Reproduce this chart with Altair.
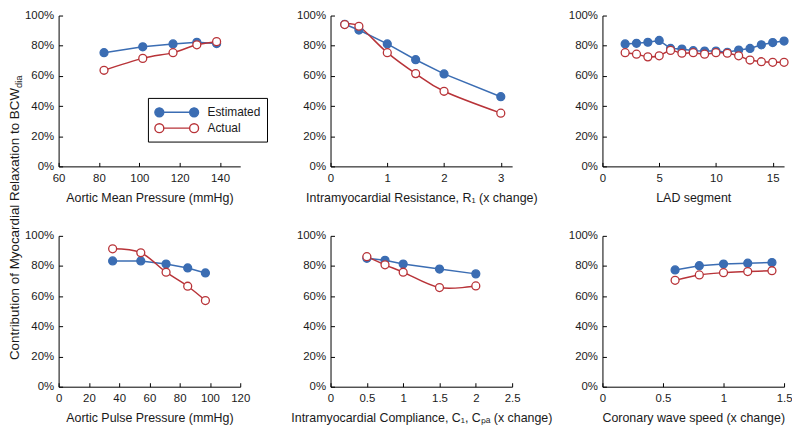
import altair as alt
import pandas as pd

BLUE = "#3b6db3"
RED = "#b83338"
FONT = "Liberation Sans"
TXT = "#1a1a1a"

SERIES = ["Estimated", "Actual"]

# Aortic Mean Pressure (mmHg)
amp_x = [82.5, 101.7, 116.7, 128.5, 138.3]
amp_est = [75.4, 79.3, 81.2, 82.3, 81.4]
amp_act = [63.7, 71.6, 75.4, 80.6, 82.7]

# Intramyocardial Resistance, R1 (x change)
r1_x = [0.25, 0.5, 1.0, 1.5, 2.0, 3.0]
r1_est = [94.2, 90.4, 81.2, 70.7, 61.3, 46.2]
r1_act = [94.0, 92.9, 75.4, 61.5, 49.8, 35.3]

# LAD segment
lad_x = [2, 3, 4, 5, 6, 7, 8, 9, 10, 11, 12, 13, 14, 15, 16]
lad_est = [81.2, 81.6, 82.3, 83.5, 78.2, 77.8, 76.7, 76.5, 76.5, 75.6, 77.1, 78.2, 80.6, 82.1, 83.1]
lad_act = [75.4, 74.4, 72.6, 73.3, 76.9, 75.0, 75.4, 74.4, 75.4, 75.0, 73.3, 70.5, 69.4, 69.0, 69.0]

# Aortic Pulse Pressure (mmHg)
app_x = [35.7, 54.3, 71.0, 85.3, 97.0]
app_est = [83.4, 83.4, 81.3, 78.7, 75.4]
app_act = [91.4, 88.8, 75.9, 66.6, 57.1]

# Intramyocardial Compliance (x change)
c1_x = [0.5, 0.75, 1.0, 1.5, 2.0]
c1_est = [85.1, 83.8, 81.3, 78.0, 74.8]
c1_act = [86.2, 80.8, 75.9, 65.7, 66.8]

# Coronary wave speed (x change)
ws_x = [0.6, 0.8, 1.0, 1.2, 1.4]
ws_est = [77.4, 80.2, 81.3, 81.9, 82.3]
ws_act = [70.5, 74.1, 75.6, 76.3, 76.9]

y_ticks = [0, 0.2, 0.4, 0.6, 0.8, 1.0]

W, H = 183, 152
TK = 4  # inward tick length

stroke_scale = alt.Scale(domain=SERIES, range=[BLUE, RED])
fill_scale = alt.Scale(domain=SERIES, range=[BLUE, "white"])

SYMBOL = ("M-1,0 A0.6,0.6 0 1,1 0.2,0 A0.6,0.6 0 1,1 -1,0 Z "
          "M0.2,0 L3.67,0 "
          "M3.67,0 A0.6,0.6 0 1,1 4.87,0 A0.6,0.6 0 1,1 3.67,0 Z")

LEGEND = alt.Legend(
    title=None, orient="none", legendX=90, legendY=83,
    symbolType=SYMBOL, symbolSize=225, symbolStrokeWidth=1.4,
    labelFontSize=12, labelFont=FONT, labelColor=TXT, labelOffset=37,
    strokeColor="black", fillColor="white", padding=6, rowPadding=0,
    labelLimit=200,
)


def axis_common(**kw):
    return dict(grid=True, gridColor="black", gridOpacity=1,
                gridWidth=1, ticks=False, domainColor="black", domainWidth=1,
                labelFont=FONT, titleFont=FONT, labelColor=TXT, titleColor=TXT,
                titleFontWeight="normal", labelFlush=False, labelOverlap=False, **kw)


def panel(xs, est, act, domain, xticks, xtitle, legend=False, extra=None):
    df = pd.DataFrame({
        "x": xs + xs,
        "v": [e / 100 for e in est] + [a / 100 for a in act],
        "s": [SERIES[0]] * len(xs) + [SERIES[1]] * len(xs),
    })
    lg = LEGEND if legend else None
    x = alt.X("x:Q", scale=alt.Scale(domain=domain, nice=False, zero=False),
              axis=alt.Axis(title=xtitle, values=xticks, format="~r", labelPadding=6,
                            titlePadding=8, labelFontSize=11.5, titleFontSize=12.5,
                            gridDash=[TK, H - TK], gridDashOffset=TK,
                            **axis_common()))
    y = alt.Y("v:Q", scale=alt.Scale(domain=[0, 1], nice=False),
              axis=alt.Axis(title=None, values=y_ticks, format=".0%", labelPadding=5,
                            labelFontSize=11.5, gridDash=[TK, 1000],
                            **axis_common()))
    base = alt.Chart(df)
    l_est = base.transform_filter(alt.datum.s == SERIES[0]).mark_line(
        strokeWidth=1.5, interpolate="linear").encode(
        x=x, y=y, stroke=alt.Stroke("s:N", scale=stroke_scale, legend=lg))
    l_act = base.transform_filter(alt.datum.s == SERIES[1]).mark_line(
        strokeWidth=1.5, interpolate="cardinal").encode(
        x=x, y=y, stroke=alt.Stroke("s:N", scale=stroke_scale, legend=lg))
    pts = base.mark_point(filled=True, size=64, strokeWidth=1.3, opacity=1).encode(
        x=x, y=y,
        fill=alt.Fill("s:N", scale=fill_scale, legend=lg),
        stroke=alt.Stroke("s:N", scale=stroke_scale, legend=lg))
    layers = [l_est, l_act, pts]
    if extra:
        layers += extra
    return alt.layer(*layers).properties(width=W, height=H)


one = alt.Data(values=[{"a": 1}])
ytitle_main = alt.Chart(one).mark_text(
    text="Contribution of Myocardial Relaxation to BCW", angle=270, align="right",
    baseline="middle", font=FONT, fontSize=13.5, color=TXT).encode(
    x=alt.value(-44), y=alt.value(-149))
ytitle_sub = alt.Chart(one).mark_text(
    text="dia", angle=270, align="left", baseline="middle", dy=4,
    font=FONT, fontSize=9.5, color=TXT).encode(
    x=alt.value(-44), y=alt.value(-149))

p1 = panel(amp_x, amp_est, amp_act, [60, 150], [60, 80, 100, 120, 140],
           "Aortic Mean Pressure (mmHg)", legend=True)
p2 = panel(r1_x, r1_est, r1_act, [0, 3.2], [0, 1, 2, 3],
           "Intramyocardial Resistance, R\u2081 (x change)")
p3 = panel(lad_x, lad_est, lad_act, [0, 16], [0, 5, 10, 15], "LAD segment")
p4 = panel(app_x, app_est, app_act, [0, 120], [0, 20, 40, 60, 80, 100, 120],
           "Aortic Pulse Pressure (mmHg)", extra=[ytitle_main, ytitle_sub])
p5 = panel(c1_x, c1_est, c1_act, [0, 2.5], [0, 0.5, 1, 1.5, 2, 2.5],
           "Intramyocardial Compliance, C\u2081, C\u209a\u2090 (x change)")
p6 = panel(ws_x, ws_est, ws_act, [0, 1.5], [0, 0.5, 1, 1.5],
           "Coronary wave speed (x change)")

chart = alt.concat(p1, p2, p3, p4, p5, p6, columns=3,
                   spacing={"row": 70, "column": 91}).properties(
    bounds="flush", padding=0, background="white"
).configure_view(stroke=None)

chart.save("out.html", embed_options={"renderer": "svg", "actions": False})
